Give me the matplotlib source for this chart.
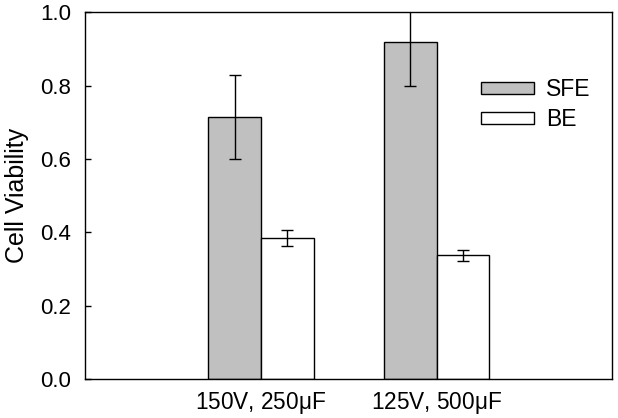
import matplotlib
matplotlib.use("Agg")
import matplotlib.pyplot as plt
import numpy as np

plt.rcParams['font.family'] = ['Liberation Sans', 'DejaVu Sans']

categories = ["150V, 250$\\mathregular{\\mu}$F", "125V, 500$\\mathregular{\\mu}$F"]
sfe = [0.714, 0.918]
sfe_err = [0.115, 0.12]
be = [0.384, 0.337]
be_err = [0.022, 0.015]
yticks = [0.0, 0.2, 0.4, 0.6, 0.8, 1.0]

fig = plt.figure(figsize=(6.18, 4.18), dpi=100)
ax = fig.add_axes([85.3/618, 1-379/418, (612.3-85.3)/618, (379-12.3)/418])

x = np.arange(1, len(categories)+1)
w = 0.3
ekw = dict(elinewidth=1.0, capthick=1.0, ecolor='black')
ax.bar(x - w/2, sfe, w, yerr=sfe_err, color='#C0C0C0', edgecolor='black', linewidth=1.0,
       capsize=4, error_kw=ekw, label='SFE')
ax.bar(x + w/2, be, w, yerr=be_err, color='white', edgecolor='black', linewidth=1.0,
       capsize=4, error_kw=ekw, label='BE')

ax.set_xlim(0, 3)
ax.set_ylim(0, 1.0)
ax.set_xticks(x)
ax.set_xticklabels(categories, fontsize=16.3)
ax.set_yticks(yticks)
ax.set_yticklabels([f"{v:.1f}" for v in yticks], fontsize=16)
ax.tick_params(axis='x', length=0, pad=8)
ax.tick_params(axis='y', direction='in', length=4, width=1, pad=10)
for s in ax.spines.values():
    s.set_linewidth(1.0)
ax.set_ylabel('Cell Viability', fontsize=18, labelpad=8)

leg = ax.legend(loc='upper left', bbox_to_anchor=((481-85.3)/527, 1-(78-12.3)/366.7),
                frameon=False, fontsize=16.5, handlelength=2.3, handleheight=0.45,
                handletextpad=0.55, labelspacing=0.3, borderpad=0, borderaxespad=0)

fig.savefig('out.png', dpi=100)
